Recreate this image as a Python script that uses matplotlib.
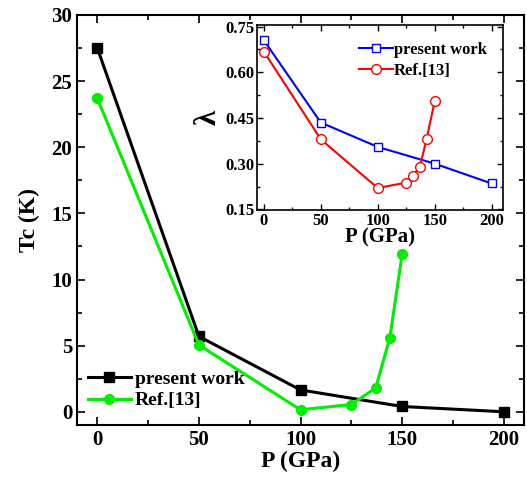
import numpy as np
import matplotlib
matplotlib.use("Agg")
import matplotlib.pyplot as plt
from matplotlib.ticker import MultipleLocator

plt.rcParams['font.family'] = ['Liberation Serif', 'DejaVu Serif']
plt.rcParams['font.weight'] = 'bold'

# data -------------------------------------------------------------------------
p_present = [0, 50, 100, 150, 200]
tc_present = [27.5, 5.7, 1.65, 0.4, 0.0]
p_ref = [0, 50, 100, 125, 137, 144, 150]
tc_ref = [23.7, 5.05, 0.15, 0.55, 1.8, 5.6, 11.9]

lam_present = [0.705, 0.435, 0.355, 0.30, 0.235]
p_ref_lam = [0, 50, 100, 125, 131, 137, 143, 150]
lam_ref = [0.668, 0.38, 0.22, 0.238, 0.26, 0.29, 0.382, 0.505]

# main plot ---------------------------------------------------------------------
fig = plt.figure(figsize=(5.27, 4.79), dpi=100)
ax = fig.add_axes([77/527, 1-425/479, (524-77)/527, (425-15)/479])

ax.plot(p_present, tc_present, color='black', lw=2.2, marker='s', ms=6.5, label='present work')
ax.plot(p_ref, tc_ref, color='#00ee00', lw=2.2, marker='o', ms=7, label='Ref.[13]')
ax.set_xlim(-10, 210)
ax.set_ylim(-1, 30)
ax.xaxis.set_major_locator(MultipleLocator(50))
ax.xaxis.set_minor_locator(MultipleLocator(25))
ax.yaxis.set_major_locator(MultipleLocator(5))
ax.yaxis.set_minor_locator(MultipleLocator(2.5))
ax.tick_params(which='both', direction='in', top=True, right=True, width=1.2)
ax.tick_params(which='major', length=6, labelsize=15)
ax.tick_params(which='minor', length=3.5)
for s in ax.spines.values():
    s.set_linewidth(1.5)
ax.set_xlabel('P (GPa)', fontsize=17, fontweight='bold', labelpad=1)
ax.set_ylabel('Tc (K)', fontsize=17, fontweight='bold', labelpad=8)
ax.legend(loc='lower left', bbox_to_anchor=(-0.01, 0.0), frameon=False, fontsize=14,
          handlelength=2.2, handletextpad=0.2, borderpad=0.3, labelspacing=0.2)

# inset ---------------------------------------------------------------------------
ins = fig.add_axes([257/527, 1-210/479, (503-257)/527, (210-25)/479])
ins.plot(p_present, lam_present, color='blue', lw=1.5, marker='s', ms=6,
         mfc='white', mec='blue', label='present work')
ins.plot(p_ref_lam, lam_ref, color='red', lw=1.5, marker='o', ms=7,
         mfc='white', mec='red', label='Ref.[13]')
ins.set_xlim(-6, 210)
ins.set_ylim(0.148, 0.755)
ins.xaxis.set_major_locator(MultipleLocator(50))
ins.xaxis.set_minor_locator(MultipleLocator(25))
ins.set_yticks([0.15, 0.30, 0.45, 0.60, 0.75])
ins.set_yticklabels(['0.15', '0.30', '0.45', '0.60', '0.75'])
ins.yaxis.set_minor_locator(MultipleLocator(0.075))
ins.tick_params(which='both', direction='in', top=True, right=True, width=1)
ins.tick_params(which='major', length=4, labelsize=12, pad=2)
ins.tick_params(which='minor', length=2.5)
for s in ins.spines.values():
    s.set_linewidth(1.2)
ins.set_xlabel('P (GPa)', fontsize=15, fontweight='bold', labelpad=-1)
ins.set_ylabel('λ', fontsize=22, fontweight='bold', labelpad=2)
ins.legend(loc='upper right', bbox_to_anchor=(0.99, 0.98), frameon=False, fontsize=12,
           handlelength=2.0, handletextpad=0.1, borderpad=0.3, labelspacing=0.3)

plt.savefig('out.png', dpi=100)
